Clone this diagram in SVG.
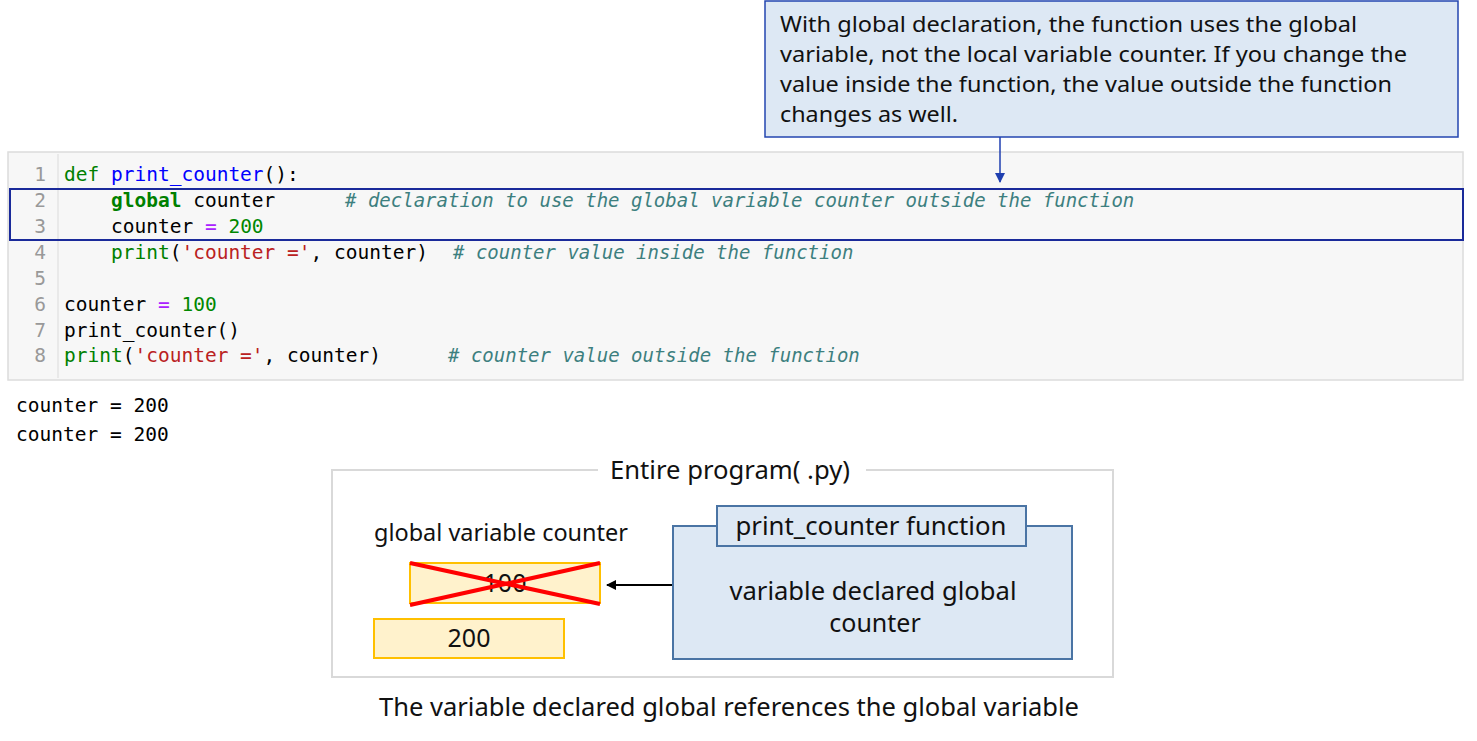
<svg xmlns="http://www.w3.org/2000/svg" width="1477" height="741" viewBox="0 0 1477 741">
<defs>
<style>
.code{font-family:"DejaVu Sans Mono",monospace;font-size:19.5px;fill:#000;white-space:pre}
.ln{font-family:"DejaVu Sans Mono",monospace;font-size:19.5px;fill:#999;text-anchor:end}
.kw{fill:#008000;font-weight:bold}
.kd{fill:#008000}
.bi{fill:#008000}
.fn{fill:#0000ff}
.st{fill:#ba2121}
.nu{fill:#008800}
.op{fill:#aa22ff}
.cm{font-family:"DejaVu Sans Mono",monospace;font-size:19px;font-style:italic;fill:#3d7f7f}
.sans{font-family:"Noto Sans","Open Sans",sans-serif;fill:#111}
</style>
<marker id="ab" markerWidth="10" markerHeight="10" refX="9" refY="5" orient="auto" markerUnits="userSpaceOnUse"><path d="M0,0 L10,5 L0,10 z" fill="#1f3fb0"/></marker>
<marker id="ak" markerWidth="10" markerHeight="10" refX="9" refY="5" orient="auto" markerUnits="userSpaceOnUse"><path d="M0,0 L10,5 L0,10 z" fill="#000"/></marker>
</defs>
<rect width="1477" height="741" fill="#fff"/>

<g id="code-cell">
<rect x="8" y="152" width="1455" height="228" fill="#f7f7f7" stroke="#dcdcdc" stroke-width="1.5"/>
<line x1="58" y1="154" x2="58" y2="378" stroke="#e4e4e4" stroke-width="1.5"/>
<text class="ln" x="46" y="181">1</text>
<text class="ln" x="46" y="207">2</text>
<text class="ln" x="46" y="233">3</text>
<text class="ln" x="46" y="259">4</text>
<text class="ln" x="46" y="285">5</text>
<text class="ln" x="46" y="311">6</text>
<text class="ln" x="46" y="337">7</text>
<text class="ln" x="46" y="362">8</text>
<text class="code" x="64" y="181"><tspan class="kd">def</tspan> <tspan class="fn">print_counter</tspan>():</text>
<text class="code" x="64" y="207">    <tspan class="kw">global</tspan> counter</text>
<text class="cm" x="345" y="207"># declaration to use the global variable counter outside the function</text>
<text class="code" x="64" y="233">    counter <tspan class="op">=</tspan> <tspan class="nu">200</tspan></text>
<text class="code" x="64" y="259">    <tspan class="bi">print</tspan>(<tspan class="st">'counter ='</tspan>, counter)</text>
<text class="cm" x="453" y="259"># counter value inside the function</text>
<text class="code" x="64" y="311">counter <tspan class="op">=</tspan> <tspan class="nu">100</tspan></text>
<text class="code" x="64" y="337">print_counter()</text>
<text class="code" x="64" y="362"><tspan class="bi">print</tspan>(<tspan class="st">'counter ='</tspan>, counter)</text>
<text class="cm" x="448" y="362"># counter value outside the function</text>
</g>

<g id="highlight">
<rect x="10" y="189" width="1453" height="51" fill="none" stroke="#1a2a9a" stroke-width="2"/>
</g>

<g id="output">
<text class="code" x="16" y="412">counter = 200</text>
<text class="code" x="16" y="441">counter = 200</text>
</g>

<g id="callout">
<rect x="765" y="1" width="693" height="136" fill="#dde8f4" stroke="#2346b0" stroke-width="1.5"/>
<text class="sans" font-size="22.5" x="780" y="32" textLength="577" lengthAdjust="spacingAndGlyphs">With global declaration, the function uses the global</text>
<text class="sans" font-size="22.5" x="780" y="62" textLength="627" lengthAdjust="spacingAndGlyphs">variable, not the local variable counter. If you change the</text>
<text class="sans" font-size="22.5" x="780" y="92" textLength="612" lengthAdjust="spacingAndGlyphs">value inside the function, the value outside the function</text>
<text class="sans" font-size="22.5" x="780" y="122" textLength="178" lengthAdjust="spacingAndGlyphs">changes as well.</text>
</g>

<g id="program">
<rect x="332" y="470" width="781" height="207" fill="#fff" stroke="#d9d9d9" stroke-width="2"/>
<rect x="598" y="460" width="268" height="20" fill="#fff"/>
<text class="sans" font-size="25" x="730" y="479" text-anchor="middle" textLength="240" lengthAdjust="spacingAndGlyphs">Entire program( .py)</text>
</g>

<g id="global-var">
<text class="sans" font-size="23.5" x="501" y="541" text-anchor="middle" textLength="254" lengthAdjust="spacingAndGlyphs">global variable counter</text>
<rect x="410" y="563" width="190" height="40" fill="#fff2cc" stroke="#ffc000" stroke-width="2"/>
<text class="sans" font-size="25" x="505" y="592" text-anchor="middle">100</text>
<line x1="410" y1="563" x2="600" y2="604" stroke="#ff0000" stroke-width="4"/>
<line x1="410" y1="605" x2="600" y2="563" stroke="#ff0000" stroke-width="4"/>
</g>

<g id="value-200">
<rect x="374" y="619" width="190" height="39" fill="#fff2cc" stroke="#ffc000" stroke-width="2"/>
<text class="sans" font-size="25" x="469" y="647" text-anchor="middle">200</text>
</g>

<g id="function">
<rect x="673" y="526" width="399" height="133" fill="#dde8f4" stroke="#4a74a4" stroke-width="2"/>
<rect x="717" y="506" width="309" height="40" fill="#dde8f4" stroke="#4a74a4" stroke-width="2"/>
<text class="sans" font-size="25" x="871" y="535" text-anchor="middle" textLength="271" lengthAdjust="spacingAndGlyphs">print_counter function</text>
<text class="sans" font-size="25" x="873" y="600" text-anchor="middle" textLength="287" lengthAdjust="spacingAndGlyphs">variable declared global</text>
<text class="sans" font-size="25" x="875" y="632" text-anchor="middle">counter</text>
</g>

<g id="connectors">
<line x1="1000" y1="137" x2="1000" y2="182" stroke="#1f3fb0" stroke-width="1.5" marker-end="url(#ab)"/>
<line x1="672" y1="585" x2="607" y2="585" stroke="#000" stroke-width="2" marker-end="url(#ak)"/>
</g>

<text class="sans" font-size="25" x="729" y="716" text-anchor="middle" textLength="700" lengthAdjust="spacingAndGlyphs">The variable declared global references the global variable</text>
</svg>
